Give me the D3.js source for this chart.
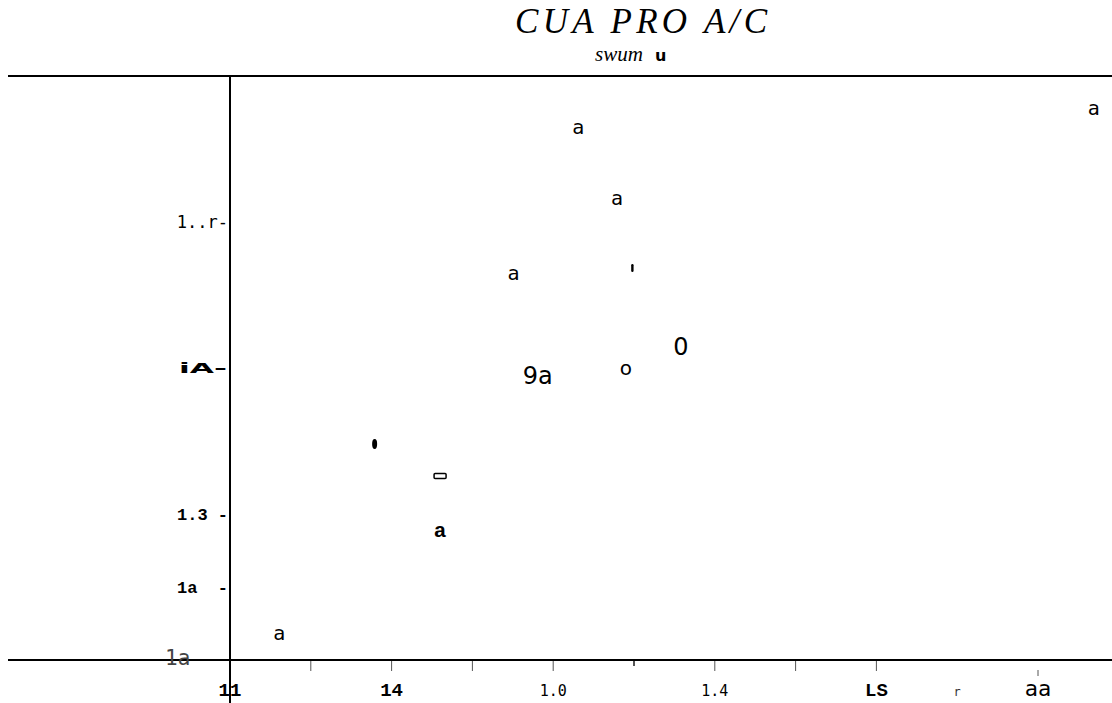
<!DOCTYPE html>
<html>
<head>
<meta charset="utf-8">
<script src="https://cdn.jsdelivr.net/npm/d3@7"></script>
<style>
  html, body { margin: 0; padding: 0; background: #fff; }
  svg { display: block; }
</style>
</head>
<body>
<div id="chart"></div>
<script>
// ---- data ----
const titleText = "CUA PRO A/C";
const subtitleText = "swum";
const subtitleSuffix = "u";

// scatter marks (glyph and value coordinates)
const pointGlyphs = ["a", "a", "a", "a", "'", "0", "o", "9a", "dot", "box", "a", "a"];
const pointX = [10.69, 4.31, 4.79, 3.51, 4.98, 5.58, 4.90, 3.81, 1.79, 2.60, 2.60, 0.61];
const pointY = [7.56, 7.30, 6.32, 5.29, 5.37, 4.29, 3.99, 3.88, 2.96, 2.52, 1.78, 0.36];
const pointKind = ["mono", "mono", "mono", "mono", "tick", "big", "mid", "big", "dot", "box", "bold", "mono"];

// y ticks
const yTickValues = [6, 4, 2, 1, 0];
const yTickLabels = ["1..r-", "iA-", "1.3 -", "1a  -", "1a"];
const yTickKind = ["thin", "sansbold", "courier", "courier", "light"];

// x ticks
const xTickValues = [1, 2, 3, 4, 5, 6, 7, 8, 10];
const xTickKind = ["n", "n", "n", "n", "short", "n", "n", "n", "low"];
const xLabelValues = [0, 2, 4, 6, 8, 9, 10];
const xLabels = ["11", "14", "1.0", "1.4", "LS", "r", "aa"];
const xLabelKind = ["courierBig", "courierBig", "mono", "mono", "courierBig", "tiny", "sans"];

// ---- layout ----
const W = 1112, H = 703;
const svg = d3.select("#chart").append("svg").attr("width", W).attr("height", H);

const x = d3.scaleLinear().domain([0, 10]).range([230, 1038]);
const y = d3.scaleLinear().domain([0, 8]).range([660, 76]);

// title
svg.append("text")
  .attr("x", 515).attr("y", 33)
  .attr("textLength", 252).attr("lengthAdjust", "spacing")
  .style("font-family", "'Liberation Serif', 'Times New Roman', serif")
  .style("font-style", "italic").style("font-size", "35px")
  .text(titleText);
svg.append("text")
  .attr("x", 595).attr("y", 61)
  .attr("textLength", 48).attr("lengthAdjust", "spacingAndGlyphs")
  .style("font-family", "'Liberation Serif', 'Times New Roman', serif")
  .style("font-style", "italic").style("font-size", "22px")
  .text(subtitleText);
svg.append("text")
  .attr("x", 655).attr("y", 61)
  .style("font-family", "'DejaVu Sans', sans-serif")
  .style("font-weight", "bold").style("font-size", "16px")
  .text(subtitleSuffix);

// frame lines
const lineG = svg.append("g").attr("stroke", "#000").attr("stroke-width", 2);
lineG.append("line").attr("x1", 8).attr("x2", W).attr("y1", y(8)).attr("y2", y(8));
lineG.append("line").attr("x1", 8).attr("x2", W).attr("y1", y(0)).attr("y2", y(0));
lineG.append("line").attr("x1", x(0)).attr("x2", x(0)).attr("y1", y(8)).attr("y2", H);

// x ticks
xTickValues.forEach((v, i) => {
  const k = xTickKind[i];
  let y1 = y(0) + 1, y2 = y(0) + 11, sw = 1;
  if (k === "short") { y2 = y(0) + 6; sw = 2; }
  if (k === "low") { y1 = y(0) + 10; y2 = y(0) + 16; sw = 1; }
  svg.append("line")
    .attr("x1", x(v)).attr("x2", x(v))
    .attr("y1", y1).attr("y2", y2)
    .attr("stroke", "#555").attr("stroke-width", sw);
});

const fontOf = {
  courier: { f: "'Liberation Mono', 'Courier New', monospace", w: "bold", s: 17, c: "#000" },
  courierBig: { f: "'Liberation Mono', 'Courier New', monospace", w: "bold", s: 19, c: "#000" },
  mono: { f: "'DejaVu Sans Mono', monospace", w: "normal", s: 15, c: "#000" },
  thin: { f: "'DejaVu Sans Mono', monospace", w: "normal", s: 17, c: "#000" },
  sansbold: { f: "'DejaVu Sans', sans-serif", w: "bold", s: 14, c: "#000", len: 48 },
  light: { f: "'DejaVu Sans Mono', monospace", w: "normal", s: 21, c: "#444" },
  sans: { f: "'DejaVu Sans Mono', monospace", w: "normal", s: 22, c: "#000" },
  tiny: { f: "'DejaVu Sans Mono', monospace", w: "normal", s: 12, c: "#333" }
};

// x labels
xLabelValues.forEach((v, i) => {
  const st = fontOf[xLabelKind[i]];
  svg.append("text")
    .attr("x", x(v)).attr("y", xLabelKind[i] === "tiny" ? 696 : 696)
    .attr("text-anchor", "middle")
    .style("font-family", st.f).style("font-weight", st.w)
    .style("font-size", st.s + "px").style("fill", st.c)
    .text(xLabels[i]);
});

// y labels
yTickValues.forEach((v, i) => {
  const st = fontOf[yTickKind[i]];
  const t = svg.append("text")
    .attr("y", y(v)).attr("dy", "0.35em")
    .style("white-space", "pre")
    .style("font-family", st.f).style("font-weight", st.w)
    .style("font-size", st.s + "px").style("fill", st.c)
    .text(yTickLabels[i]);
  if (yTickKind[i] === "light") {
    t.attr("x", 165).attr("y", y(v) - 2).attr("text-anchor", "start");
  } else if (st.len) {
    t.attr("x", 179).attr("text-anchor", "start")
      .attr("textLength", st.len).attr("lengthAdjust", "spacingAndGlyphs");
  } else {
    t.attr("x", 228).attr("text-anchor", "end");
  }
});

// points
const ptStyle = {
  mono: { f: "'DejaVu Sans Mono', monospace", w: "normal", s: 20 },
  big: { f: "'DejaVu Sans', sans-serif", w: "normal", s: 24 },
  mid: { f: "'DejaVu Sans', sans-serif", w: "normal", s: 20 },
  bold: { f: "'Liberation Mono', 'Courier New', monospace", w: "bold", s: 21 }
};
pointGlyphs.forEach((g, i) => {
  const k = pointKind[i];
  const cx = x(pointX[i]), cy = y(pointY[i]);
  if (k === "dot") {
    svg.append("ellipse").attr("cx", cx).attr("cy", cy).attr("rx", 2.5).attr("ry", 5).attr("fill", "#000");
  } else if (k === "box") {
    svg.append("rect").attr("x", cx - 6).attr("y", cy - 2.5).attr("width", 12).attr("height", 5)
      .attr("fill", "#fff").attr("stroke", "#000").attr("stroke-width", 1.5).attr("rx", 1);
  } else if (k === "tick") {
    svg.append("rect").attr("x", cx - 1.2).attr("y", cy - 4).attr("width", 2.4).attr("height", 8)
      .attr("rx", 1.2).attr("fill", "#000");
  } else {
    const st = ptStyle[k];
    svg.append("text")
      .attr("x", cx).attr("y", cy).attr("dy", "0.32em")
      .attr("text-anchor", "middle")
      .style("font-family", st.f).style("font-weight", st.w)
      .style("font-size", st.s + "px")
      .text(g);
  }
});
</script>
</body>
</html>
